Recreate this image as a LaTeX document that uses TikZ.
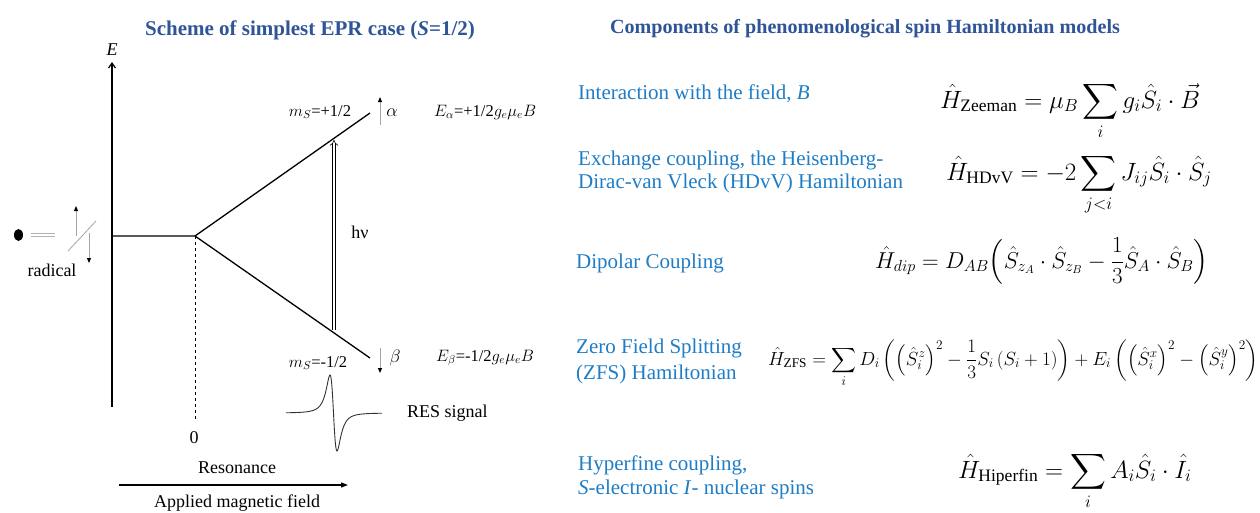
\documentclass[tikz,border=0pt]{standalone}
\usepackage{fix-cm}
\usepackage{exscale}
\usepackage{fontspec}
\setmainfont{Liberation Serif}
\usetikzlibrary{arrows.meta}
\definecolor{titleblue}{RGB}{47,85,151}
\definecolor{descblue}{RGB}{31,125,198}
\begin{document}
\begin{tikzpicture}[x=1pt,y=-1pt,
  ttl/.style={font=\fontsize{21}{25}\selectfont\bfseries, text=titleblue, inner sep=0pt},
  desc/.style={font=\fontsize{21}{25}\selectfont, text=descblue, inner sep=0pt, anchor=base west},
  lbl/.style={font=\fontsize{18}{22}\selectfont, inner sep=0pt},
  enrg/.style={font=\fontsize{16.5}{20}\selectfont, inner sep=0pt, anchor=west},
  frm/.style={font=\fontsize{25}{30}\selectfont, inner sep=0pt, anchor=base west},
  lvl/.style={line width=1.3pt},
  tip/.style={-{Triangle[length=5pt,width=4pt,color=black]}},
]
\useasboundingbox[fill=white] (0,0) rectangle (1260,512);
% coordinates
\coordinate (Ebot) at (112,407);
\coordinate (Etop) at (112,62);
\coordinate (lvlL) at (112,236);
\coordinate (split) at (195,236);
\coordinate (aEnd) at (370,113);
\coordinate (bEnd) at (370,358);
\coordinate (zero) at (195,420);
\coordinate (hvB) at (334,330);
\coordinate (hvT) at (334,140);
\coordinate (fL) at (119,485);
\coordinate (fR) at (348,485);
% axes and levels
\draw[line width=1.2pt, -{Straight Barb[length=5pt,width=7pt]}] (Ebot) -- (Etop);
\draw[lvl] (lvlL) -- (split) -- (aEnd);
\draw[lvl] (split) -- (bEnd);
\draw[dashed, line width=0.8pt] (split) -- (zero);
\draw[double, double distance=2.4pt, line width=0.6pt, -{Implies}] (hvB) -- (hvT);
\draw[line width=1.2pt, -{Triangle[length=7pt,width=5pt]}] (fL) -- (fR);
% alpha / beta arrows
\draw[gray!70, line width=1pt, tip] (380,125) -- (380,97);
\draw[gray!70, line width=1pt, tip] (380,348) -- (380,373);
% radical
\fill (18.5,235) ellipse [x radius=4.5pt, y radius=6pt];
\draw[gray!60, line width=0.9pt, double distance=1.6pt] (31,235) -- (55,235);
\draw[gray!70, line width=0.8pt] (68,251) -- (96,221);
\draw[gray!70, line width=1pt, tip] (76,236) -- (76,206);
\draw[gray!70, line width=1pt, tip] (89,233) -- (89,263);
% RES signal
\draw[line width=0.9pt, black!80] plot[smooth, domain=-7.85:8, samples=241]
  ({333.5+6.06*\x}, {413+58.5*2*\x/((1+\x*\x)*(1+\x*\x))});
% titles
\node[ttl] (t1) at (310,30) {Scheme of simplest EPR case (\textit{S}=1/2)};
\node[ttl, font=\fontsize{20.1}{25}\selectfont\bfseries] (t2) at (865,29) {Components of phenomenological spin Hamiltonian models};
% left labels
\node[lbl, font=\fontsize{18}{22}\selectfont\itshape] (E) at (112,50) {E};
\node[lbl] (z) at (194,438) {0};
\node[lbl] (res) at (237,468) {Resonance};
\node[lbl] (amf) at (237,503) {Applied magnetic field};
\node[lbl] (rad) at (52,270) {radical};
\node[lbl] (hv) at (360,232) {hν};
\node[enrg, anchor=center] (ma) at (320,112) {$m_S$=+1/2};
\node[lbl] (al) at (392,113) {$\alpha$};
\node[enrg] (Ea) at (434,112) {$E_\alpha$=+1/2$g_e\mu_e B$};
\node[enrg, anchor=center] (mb) at (318,363) {$m_S$=-1/2};
\node[lbl] (be) at (395,358) {$\beta$};
\node[enrg] (Eb) at (436,358) {$E_\beta$=-1/2$g_e\mu_e B$};
\node[lbl, anchor=west] (rs) at (407,413) {RES signal};
% descriptions
\node[desc] (d1) at (578,99) {Interaction with the field, \textit{B}};
\node[desc] (d2a) at (578,165) {Exchange coupling, the Heisenberg-};
\node[desc] (d2b) at (578,188) {Dirac-van Vleck (HDvV) Hamiltonian};
\node[desc] (d3) at (576,268) {Dipolar Coupling};
\node[desc] (d4a) at (576,353) {Zero Field Splitting};
\node[desc] (d4b) at (576,379) {(ZFS) Hamiltonian};
\node[desc] (d5a) at (578,470) {Hyperfine coupling,};
\node[desc] (d5b) at (578,494) {\textit{S}-electronic \textit{I}- nuclear spins};
% formulas
\node[frm] (fz) at (940,108) {$\displaystyle \hat{H}_{\mathrm{Zeeman}} = \mu_B \sum_i g_i \hat{S}_i \cdot \vec{B}$};
\node[frm] (fh) at (946,180) {$\displaystyle \hat{H}_{\mathrm{HDvV}} = -2\sum_{j<i} J_{ij}\hat{S}_i\cdot\hat{S}_j$};
\node[frm, font=\fontsize{23}{28}\selectfont] (fd) at (875,268) {$\displaystyle \hat{H}_{dip} = D_{AB}\!\left(\hat{S}_{z_A}\cdot\hat{S}_{z_B} - \frac{1}{3}\hat{S}_A\cdot\hat{S}_B\right)$};
\node[frm, font=\fontsize{19}{24}\selectfont] (fzfs) at (768,365) {$\displaystyle \hat{H}_{\mathrm{ZFS}} = \sum_i D_i\left(\left(\hat{S}_i^z\right)^2 - \frac{1}{3}S_i\left(S_i+1\right)\right) + E_i\left(\left(\hat{S}_i^x\right)^2-\left(\hat{S}_i^y\right)^2\right)$};
\node[frm] (fhf) at (958,478) {$\displaystyle \hat{H}_{\mathrm{Hiperfin}} = \sum_i A_i\hat{S}_i\cdot\hat{I}_i$};
\end{tikzpicture}
\end{document}
